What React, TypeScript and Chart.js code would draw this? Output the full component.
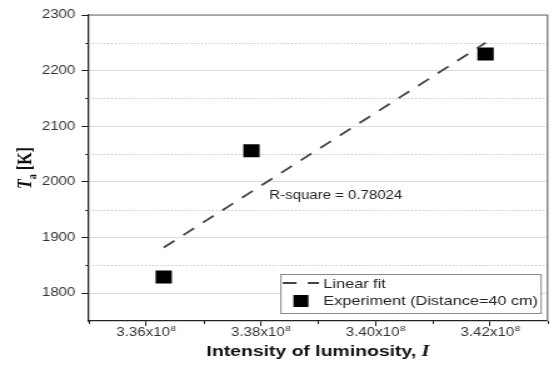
import React, { useEffect, useRef } from 'react';
import { Chart, registerables } from 'chart.js';

Chart.register(...registerables);

// ---- data ----
const experimentX = [3.3631e8, 3.3784e8, 3.4192e8];
const experimentY = [1829, 2056, 2230];
const fitX = [3.3631e8, 3.4192e8];
const fitY = [1882, 2250];
const xLimits = [3.35e8, 3.43e8];
const yLimits = [1750, 2300];
const xTickStep = 0.01e8;
const yTickStep = 50;
const legendLabels = ['Linear fit', 'Experiment (Distance=40 cm)'];
const annotationText = 'R-square = 0.78024';
const annotationAnchor = [3.3815e8, 1975];
const xTitle = 'Intensity of luminosity, ';
const xTitleItalic = 'I';
const yTitleMain = 'T';
const yTitleSub = 'a';
const yTitleUnit = ' [K]';

// ---- layout (the reference image is stretched horizontally) ----
const OUT_W = 559;
const OUT_H = 372;
const SX = 1.2506;
const W = Math.round(OUT_W / SX);
const SANS = '"Liberation Sans", Arial, sans-serif';
const SERIF = '"Liberation Serif", "Times New Roman", serif';

const isMajorX = (v: number) => Math.round(v / xTickStep) % 2 === 0;
const isMajorY = (v: number) => Math.round(v) % 100 === 0;

const decorPlugin = {
  id: 'decor',
  beforeDatasetsDraw(chart: any) {
    const { ctx, chartArea: ca } = chart;
    const ys = chart.scales.y;
    ctx.save();
    ctx.strokeStyle = '#c8c8c8';
    ctx.lineWidth = 1;
    ctx.setLineDash([1.5, 1.5]);
    ys.ticks.forEach((t: any) => {
      if (!isMajorY(t.value) && t.value > ys.min) {
        const y = Math.round(ys.getPixelForValue(t.value)) + 0.5;
        ctx.beginPath();
        ctx.moveTo(ca.left, y);
        ctx.lineTo(ca.right, y);
        ctx.stroke();
      }
    });
    ctx.setLineDash([]);
    ctx.strokeStyle = '#6a6a6a';
    ctx.lineWidth = 1.2;
    ctx.beginPath();
    ctx.moveTo(ca.left, ca.top);
    ctx.lineTo(ca.right, ca.top);
    ctx.lineTo(ca.right, ca.bottom);
    ctx.stroke();
    ctx.restore();
  },
  afterDraw(chart: any) {
    const { ctx, chartArea: ca } = chart;
    const xs = chart.scales.x;
    const ys = chart.scales.y;
    ctx.save();
    ctx.strokeStyle = '#222';
    ctx.lineWidth = 1;
    ys.ticks.forEach((t: any) => {
      if (!isMajorY(t.value) && t.value > ys.min) {
        const y = Math.round(ys.getPixelForValue(t.value)) + 0.5;
        ctx.beginPath();
        ctx.moveTo(ca.left - 2.5, y);
        ctx.lineTo(ca.left, y);
        ctx.stroke();
      }
    });
    xs.ticks.forEach((t: any) => {
      if (!isMajorX(t.value)) {
        const x = Math.round(xs.getPixelForValue(t.value)) + 0.5;
        ctx.beginPath();
        ctx.moveTo(x, ca.bottom);
        ctx.lineTo(x, ca.bottom + 3);
        ctx.stroke();
      }
    });
    // x tick labels with superscript exponent
    ctx.fillStyle = '#333';
    ctx.textBaseline = 'alphabetic';
    xs.ticks.forEach((t: any) => {
      if (!isMajorX(t.value)) return;
      const main = (t.value / 1e8).toFixed(2) + 'x10';
      const sup = '8';
      ctx.font = `12px ${SANS}`;
      const mw = ctx.measureText(main).width;
      ctx.font = `8px ${SANS}`;
      const sw = ctx.measureText(sup).width;
      const x0 = xs.getPixelForValue(t.value) - (mw + sw) / 2;
      const base = 336;
      ctx.font = `12px ${SANS}`;
      ctx.textAlign = 'left';
      ctx.fillText(main, x0, base);
      ctx.font = `8px ${SANS}`;
      ctx.fillText(sup, x0 + mw + 0.5, base - 5.5);
    });
    // x title
    ctx.fillStyle = '#111';
    ctx.font = `bold 15.5px ${SANS}`;
    const tw = ctx.measureText(xTitle).width;
    ctx.font = `bold italic 16.5px ${SERIF}`;
    const iw = ctx.measureText(xTitleItalic).width;
    const cx = (ca.left + ca.right) / 2;
    const tx0 = cx - (tw + iw) / 2;
    ctx.textAlign = 'left';
    ctx.font = `bold 15.5px ${SANS}`;
    ctx.fillText(xTitle, tx0, 356);
    ctx.font = `bold italic 16.5px ${SERIF}`;
    ctx.fillText(xTitleItalic, tx0 + tw, 356);
    // y title (rotated)
    ctx.save();
    ctx.translate(24.5, (ca.top + ca.bottom) / 2);
    ctx.rotate(-Math.PI / 2);
    ctx.font = `bold italic 16px ${SERIF}`;
    const w1 = ctx.measureText(yTitleMain).width;
    ctx.font = `bold 10px ${SERIF}`;
    const w2 = ctx.measureText(yTitleSub).width;
    ctx.font = `bold 16px ${SERIF}`;
    const w3 = ctx.measureText(yTitleUnit).width;
    let px = -(w1 + w2 + w3) / 2;
    ctx.font = `bold italic 16px ${SERIF}`;
    ctx.fillText(yTitleMain, px, 0);
    px += w1;
    ctx.font = `bold 10px ${SERIF}`;
    ctx.fillText(yTitleSub, px, 4);
    px += w2;
    ctx.font = `bold 16px ${SERIF}`;
    ctx.fillText(yTitleUnit, px, 0);
    ctx.restore();
    // annotation
    ctx.fillStyle = '#222';
    ctx.font = `12px ${SANS}`;
    ctx.textBaseline = 'middle';
    ctx.fillText(annotationText, xs.getPixelForValue(annotationAnchor[0]), ys.getPixelForValue(annotationAnchor[1]));
    // legend
    const ds0 = chart.data.datasets[0];
    const ds1 = chart.data.datasets[1];
    ctx.font = `13px ${SANS}`;
    const lw = Math.max(...legendLabels.map((s) => ctx.measureText(s).width));
    const right = ca.right - 5.6;
    const bottom = ca.bottom - 8;
    const bh = 39;
    const left = right - (34.5 + lw + 2);
    const top = bottom - bh;
    ctx.fillStyle = '#fff';
    ctx.fillRect(left, top, right - left, bh);
    ctx.strokeStyle = '#8a8a8a';
    ctx.lineWidth = 1;
    ctx.strokeRect(left + 0.5, top + 0.5, right - left, bh);
    const r1 = top + 9;
    const r2 = top + 27;
    ctx.strokeStyle = ds0.borderColor;
    ctx.lineWidth = ds0.borderWidth;
    ctx.setLineDash(ds0.borderDash);
    ctx.beginPath();
    ctx.moveTo(left + 2, r1);
    ctx.lineTo(left + 31, r1);
    ctx.stroke();
    ctx.setLineDash([]);
    ctx.fillStyle = ds1.backgroundColor;
    ctx.fillRect(left + 10.5, r2 - 6, 12, 12);
    ctx.fillStyle = '#222';
    ctx.textBaseline = 'middle';
    ctx.fillText(legendLabels[0], left + 34.5, r1 + 1);
    ctx.fillText(legendLabels[1], left + 34.5, r2);
    ctx.restore();
  },
};

export default function App() {
  const ref = useRef<HTMLCanvasElement>(null);
  useEffect(() => {
    const canvas = ref.current;
    if (!canvas) return;
    const chart = new Chart(canvas, {
      type: 'scatter',
      data: {
        datasets: [
          {
            label: legendLabels[0],
            data: fitX.map((x, i) => ({ x, y: fitY[i] })),
            showLine: true,
            borderColor: '#444',
            borderWidth: 1.8,
            borderDash: [11, 9],
            pointRadius: 0,
            fill: false,
          },
          {
            label: legendLabels[1],
            data: experimentX.map((x, i) => ({ x, y: experimentY[i] })),
            pointStyle: 'rect',
            pointRadius: 9.2,
            backgroundColor: '#000',
            borderColor: '#000',
            borderWidth: 0,
          },
        ],
      },
      options: {
        responsive: false,
        animation: false,
        devicePixelRatio: 1,
        layout: { padding: { left: 0, right: 2.4, top: 15, bottom: 0 } },
        plugins: { legend: { display: false }, tooltip: { enabled: false } },
        scales: {
          x: {
            type: 'linear',
            min: xLimits[0],
            max: xLimits[1],
            afterFit: (s: any) => { s.height = 51; },
            ticks: { stepSize: xTickStep, autoSkip: false, callback: () => '', maxRotation: 0 },
            grid: {
              drawOnChartArea: false,
              tickLength: 5,
              tickColor: (c: any) => (c.tick && isMajorX(c.tick.value) ? '#222' : 'rgba(0,0,0,0)'),
            },
            border: { display: true, color: '#222', width: 1.3 },
          },
          y: {
            type: 'linear',
            min: yLimits[0],
            max: yLimits[1],
            afterFit: (s: any) => { s.width = 70.8; },
            ticks: {
              stepSize: yTickStep,
              autoSkip: false,
              padding: 5,
              color: '#333',
              font: { family: SANS, size: 12 },
              callback: (v: any) => (isMajorY(Number(v)) ? String(v) : ''),
            },
            grid: {
              tickLength: 5.6,
              color: (c: any) => (c.tick && isMajorY(c.tick.value) ? '#dcdcdc' : 'rgba(0,0,0,0)'),
              tickColor: (c: any) => (c.tick && isMajorY(c.tick.value) ? '#222' : 'rgba(0,0,0,0)'),
            },
            border: { display: true, color: '#222', width: 1.3 },
          },
        },
      },
      plugins: [decorPlugin],
    } as any);
    return () => chart.destroy();
  }, []);
  return (
    <div style={{ position: 'absolute', left: 0, top: 0, width: OUT_W, height: OUT_H, overflow: 'hidden', background: '#fff' }}>
      <canvas
        ref={ref}
        width={W}
        height={OUT_H}
        style={{ width: W, height: OUT_H, display: 'block', transform: `scaleX(${SX})`, transformOrigin: '0 0' }}
      />
    </div>
  );
}
